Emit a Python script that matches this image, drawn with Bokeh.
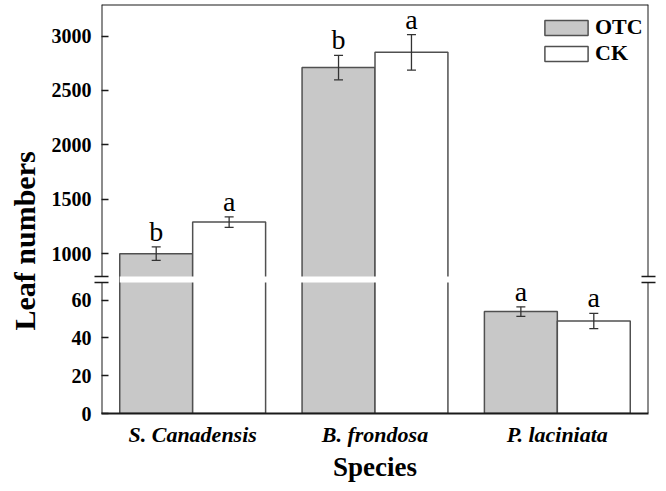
import numpy as np
from bokeh.plotting import figure
from bokeh.models import (ColumnDataSource, FactorRange, Range1d, LinearAxis, Title,
                          FixedTicker, Whisker, TeeHead, BoxAnnotation, Legend, LegendItem)
from bokeh.transform import dodge
from bokeh.core.properties import value
from bokeh.embed import file_html
from bokeh.resources import INLINE

# ---------------- data ----------------
species = ["S. Canadensis", "B. frondosa", "P. laciniata"]
treatments = ["OTC", "CK"]
otc_mean = [1000, 2710, 54]
otc_err = [62, 112, 2.5]
ck_mean = [1290, 2850, 49]
ck_err = [48, 163, 4]
otc_letters = ["b", "b", "a"]
ck_letters = ["a", "a", "a"]
lower_ticks = [0, 20, 40, 60]
upper_ticks = [1000, 1500, 2000, 2500, 3000]
lower_span = (0, 69.4)      # visible values of the lower segment
upper_span = (790, 3290)    # visible values of the upper segment

# ---------------- layout ----------------
W, H = 666, 491
B_L, B_R, B_T, B_B = 101, 18, 4, 78
FRAME_H = H - B_T - B_B
LOWER_PX, GAP_PX = 131, 6
UPPER_PX = FRAME_H - LOWER_PX - GAP_PX
TITLE_START = 83             # px from frame bottom to the start of the y title

lo_per_px = (lower_span[1] - lower_span[0]) / LOWER_PX
up_per_px = (upper_span[1] - upper_span[0]) / UPPER_PX
y_lo = Range1d(lower_span[0], lower_span[0] + FRAME_H * lo_per_px)
y_up = Range1d(upper_span[1] - FRAME_H * up_per_px, upper_span[1])
gap_lo = GAP_PX * lo_per_px
gap_up = GAP_PX * up_per_px
gap_mid = lower_span[1] + gap_lo / 2
break_marks = [round(gap_mid - 3 * lo_per_px, 3), round(gap_mid + 3 * lo_per_px, 3)]


def lo_from_up(v):
    return y_lo.start + (v - y_up.start) / (y_up.end - y_up.start) * (y_lo.end - y_lo.start)


SERIF = "Liberation Serif"
AX = "#1a1a1a"
BAR_LINE = "#505050"
fills = {"OTC": "#c8c8c8", "CK": "#ffffff"}
offsets = {"OTC": -0.2, "CK": 0.2}
BAR_W = 0.4

p = figure(width=W, height=H, x_range=FactorRange(factors=species), y_range=y_lo,
           output_backend="svg", toolbar_location=None, y_axis_location=None,
           min_border_left=B_L, min_border_right=B_R, min_border_top=B_T, min_border_bottom=B_B,
           background_fill_color="white", border_fill_color="white")
p.outline_line_color = None
p.extra_y_ranges = {"upper": y_up}
p.grid.visible = False

series = {
    "OTC": (otc_mean, otc_err, otc_letters),
    "CK": (ck_mean, ck_err, ck_letters),
}

legend_renderers = {}
for t in treatments:
    mean, err, letters = series[t]
    mean = np.array(mean, dtype=float)
    err = np.array(err, dtype=float)
    off = offsets[t]
    xs = dodge("species", off, range=p.x_range)

    # lower segment bars
    lo_src = ColumnDataSource(dict(species=species,
                                   top=np.minimum(mean, gap_mid)))
    r = p.vbar(x=xs, top="top", bottom=0, width=BAR_W, source=lo_src,
               fill_color=fills[t], line_color=BAR_LINE, line_width=1.5)
    legend_renderers[t] = r

    # upper segment bars
    big = mean > lower_span[1]
    up_src = ColumnDataSource(dict(species=[s for s, b in zip(species, big) if b],
                                   top=mean[big]))
    p.vbar(x=xs, top="top", bottom=upper_span[0] - gap_up / 2, width=BAR_W, source=up_src,
           fill_color=fills[t], line_color=BAR_LINE, line_width=1.5, y_range_name="upper")

    # error bars and letters
    for mask, rng in ((~big, "default"), (big, "upper")):
        src = ColumnDataSource(dict(species=[s for s, b in zip(species, mask) if b],
                                    upper=(mean + err)[mask], lower=(mean - err)[mask],
                                    letter=[l for l, b in zip(letters, mask) if b]))
        w = Whisker(source=src, base=dodge("species", off, range=p.x_range),
                    upper="upper", lower="lower", y_range_name=rng,
                    line_color="#333333", line_width=1.3, level="annotation",
                    upper_head=TeeHead(size=9, line_color="#333333", line_width=1.3),
                    lower_head=TeeHead(size=9, line_color="#333333", line_width=1.3))
        p.add_layout(w)
        p.text(x=dodge("species", off, range=p.x_range), y="upper", text="letter", source=src,
               text_align="center", text_baseline="bottom",
               text_font=value(SERIF), text_font_size="28px", text_color="black",
               y_range_name=rng)

# white gap across the bars for the axis break
p.add_layout(BoxAnnotation(left=0.1, right=len(species) - 0.1,
                           bottom=lower_span[1], top=lower_span[1] + gap_lo,
                           fill_color="white", fill_alpha=1.0, line_color=None,
                           level="annotation"))

# one left axis carrying the ticks and labels of both segments (minor ticks = break marks)
tick_pos = [float(t) for t in lower_ticks] + [round(lo_from_up(t), 3) for t in upper_ticks]
tick_txt = [str(t) for t in lower_ticks + upper_ticks]
left = LinearAxis(ticker=FixedTicker(ticks=tick_pos, minor_ticks=break_marks),
                  major_label_overrides={pos: txt for pos, txt in zip(tick_pos, tick_txt)},
                  axis_line_color=None, major_tick_in=7, major_tick_out=0,
                  minor_tick_in=7, minor_tick_out=7, major_label_standoff=3,
                  major_tick_line_color=AX, major_tick_line_width=1.5,
                  minor_tick_line_color=AX, minor_tick_line_width=1.5,
                  major_label_text_font=SERIF, major_label_text_font_style="bold",
                  major_label_text_font_size="20px", major_label_text_color="black")
p.add_layout(left, "left")

# y-axis title
p.add_layout(Title(text="Leaf numbers", align="left", offset=TITLE_START, standoff=12,
                   vertical_align="top", text_font=SERIF, text_font_style="bold",
                   text_font_size="30px", text_color="black"), "left")

# right-hand break marks
p.add_layout(LinearAxis(ticker=FixedTicker(ticks=[], minor_ticks=break_marks),
                        axis_line_color=None, major_tick_in=0, major_tick_out=0,
                        minor_tick_in=7, minor_tick_out=7,
                        minor_tick_line_color=AX, minor_tick_line_width=1.5), "right")

# broken frame lines, left and right
for side, xloc in (("left", 0), ("right", len(species))):
    for bounds, rng in ((lower_span, "default"), (upper_span, "upper")):
        p.add_layout(LinearAxis(ticker=FixedTicker(ticks=[]), bounds=bounds, y_range_name=rng,
                                fixed_location=xloc, axis_line_color=AX, axis_line_width=2,
                                major_tick_out=0, minor_tick_out=0,
                                major_tick_in=0, minor_tick_in=0), side)

# top frame line
p.add_layout(LinearAxis(ticker=FixedTicker(ticks=[]), fixed_location=y_lo.end,
                        axis_line_color=AX, axis_line_width=2,
                        major_tick_in=0, major_tick_out=0,
                        minor_tick_in=0, minor_tick_out=0), "above")

xa = p.below[0]
xa.axis_line_color = AX
xa.axis_line_width = 2
xa.major_tick_in = 0
xa.major_tick_out = 0
xa.major_label_standoff = 8
xa.major_label_text_font = SERIF
xa.major_label_text_font_style = "bold italic"
xa.major_label_text_font_size = "22px"
xa.major_label_text_color = "black"
xa.axis_label = "Species"
xa.axis_label_standoff = 2
xa.axis_label_text_font = SERIF
xa.axis_label_text_font_style = "bold"
xa.axis_label_text_font_size = "27px"
xa.axis_label_text_color = "black"

legend = Legend(items=[LegendItem(label=t, renderers=[legend_renderers[t]]) for t in treatments],
                location=(438, 347), margin=0, padding=0, spacing=0,
                glyph_width=54, glyph_height=19, label_standoff=2,
                label_text_font=SERIF, label_text_font_style="bold",
                label_text_font_size="22px", label_text_color="black",
                border_line_color=None, background_fill_alpha=0)
p.add_layout(legend)

open("out.html", "w").write(file_html(p, INLINE))
